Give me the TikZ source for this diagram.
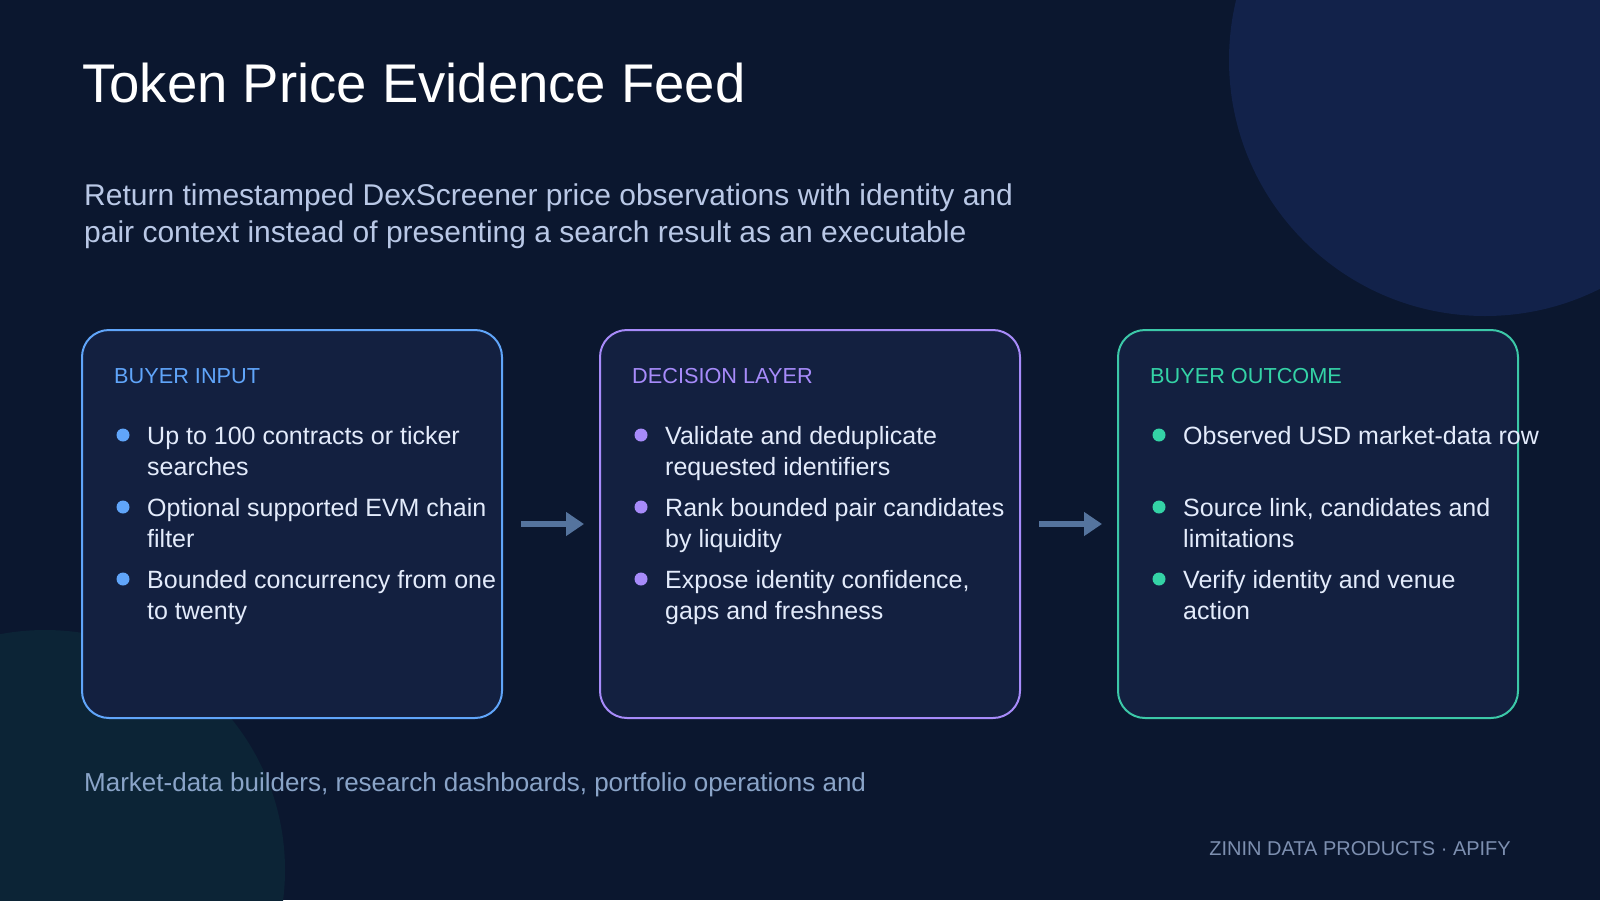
\documentclass[tikz,border=0pt]{standalone}
\usepackage{fontspec}
\setmainfont{Liberation Sans}
\usetikzlibrary{arrows.meta}
\definecolor{bgc}{HTML}{0B172F}
\definecolor{circA}{HTML}{12224A}
\definecolor{circB}{HTML}{0C2436}
\definecolor{boxfill}{HTML}{132040}
\definecolor{cblue}{HTML}{60A5FA}
\definecolor{cpurple}{HTML}{A78BFA}
\definecolor{cteal}{HTML}{34D3A6}
\definecolor{cteal2}{HTML}{3CC8A8}
\definecolor{txtmain}{HTML}{E3EBFB}
\definecolor{txtsub}{HTML}{B9C8E6}
\definecolor{txtfoot}{HTML}{8AA4C8}
\definecolor{txtbrand}{HTML}{7D8FB0}
\definecolor{arrowc}{HTML}{55749E}
\tikzset{
  panel/.style={draw=#1, line width=2pt, fill=boxfill, rounded corners=27pt, minimum height=388pt, inner sep=0pt},
  hdr/.style={anchor=base west, inner sep=0pt, text=#1, font=\fontsize{21.7}{26}\selectfont},
  bul/.style={anchor=base west, inner sep=0pt, text=txtmain, font=\fontsize{25}{31.5}\selectfont},
  dot/.style={circle, fill=#1, minimum size=13pt, inner sep=0pt},
  flow/.style={draw=arrowc, line width=5.5pt, -{Triangle[length=18pt,width=23pt]}},
}
\newcommand{\twol}[2]{\parbox[t]{1400pt}{\raggedright #1\\#2}}
\begin{document}
\begin{tikzpicture}[x=1pt,y=-1pt]
\useasboundingbox (0,0) rectangle (1600,900);
\begin{scope}
\clip (0,0) rectangle (1600,900);
\fill[bgc] (0,0) rectangle (1600,900);
\fill[circA] (1485,60) circle (256);
\fill[circB] (45,870) circle (240);
\end{scope}

% title
\node[anchor=base west, inner sep=0pt, text=white, font=\fontsize{54.5}{60}\selectfont] (title) at (82,102) {Token Price Evidence Feed};
\node[anchor=base west, inner sep=0pt, text=txtsub, font=\fontsize{30}{37.5}\selectfont] (sub) at (84,205)
  {\twol{Return timestamped DexScreener price observations with identity and}{pair context instead of presenting a search result as an executable}};

% panels
\node[panel=cblue, minimum width=420pt] (b1) at (292,524) {};
\node[panel=cpurple, minimum width=420pt] (b2) at (810,524) {};
\node[panel=cteal2, minimum width=400pt] (b3) at (1318,524) {};

% headers
\node[hdr=cblue] (h1) at (114,383) {BUYER INPUT};
\node[hdr=cpurple] (h2) at (632,383) {DECISION LAYER};
\node[hdr=cteal] (h3) at (1150,383) {BUYER OUTCOME};

% box 1 bullets
\node[dot=cblue] (d11) at (123,435) {};
\node[dot=cblue] (d12) at (123,507) {};
\node[dot=cblue] (d13) at (123,579) {};
\node[bul] (t11) at (147,444) {\twol{Up to 100 contracts or ticker}{searches}};
\node[bul] (t12) at (147,516) {\twol{Optional supported EVM chain}{filter}};
\node[bul] (t13) at (147,588) {\twol{Bounded concurrency from one}{to twenty}};

% box 2 bullets
\node[dot=cpurple] (d21) at (641,435) {};
\node[dot=cpurple] (d22) at (641,507) {};
\node[dot=cpurple] (d23) at (641,579) {};
\node[bul] (t21) at (665,444) {\twol{Validate and deduplicate}{requested identifiers}};
\node[bul] (t22) at (665,516) {\twol{Rank bounded pair candidates}{by liquidity}};
\node[bul] (t23) at (665,588) {\twol{Expose identity confidence,}{gaps and freshness}};

% box 3 bullets
\node[dot=cteal] (d31) at (1159,435) {};
\node[dot=cteal] (d32) at (1159,507) {};
\node[dot=cteal] (d33) at (1159,579) {};
\node[bul] (t31) at (1183,444) {Observed USD market-data row};
\node[bul] (t32) at (1183,516) {\twol{Source link, candidates and}{limitations}};
\node[bul] (t33) at (1183,588) {\twol{Verify identity and venue}{action}};

% arrows
\draw[flow] ([xshift=18pt]b1.east) -- ([xshift=-15pt]b2.west);
\draw[flow] ([xshift=18pt]b2.east) -- ([xshift=-15pt]b3.west);

% footer
\node[anchor=base west, inner sep=0pt, text=txtfoot, font=\fontsize{26}{30}\selectfont] (foot) at (84,791) {Market-data builders, research dashboards, portfolio operations and};
\node[anchor=base east, inner sep=0pt, text=txtbrand, font=\fontsize{20}{24}\selectfont] (brand) at (1511,855) {ZININ DATA PRODUCTS · APIFY};
\end{tikzpicture}
\end{document}
